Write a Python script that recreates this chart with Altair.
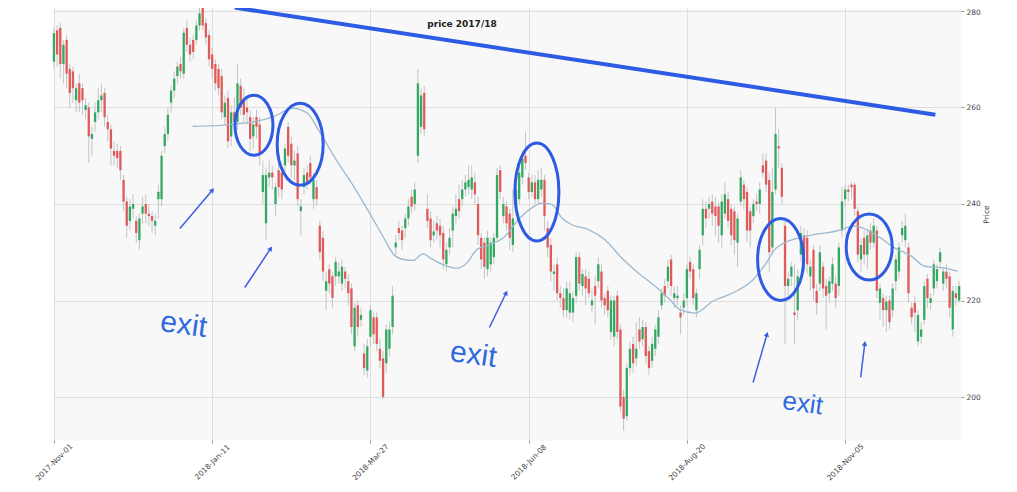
import json
import pandas as pd
import altair as alt

# daily candles, index = trading day since 2017-11-01
opens = [269.5, 276, 276.5, 269, 274, 268, 267.5, 261.5, 265, 264,
         259.5, 260, 253.5, 257, 259, 261.5, 263, 257, 255.5, 251,
         251, 251, 245, 240.5, 236.5, 239, 236.5, 232.5, 238, 240,
         238, 237.5, 235.5, 241, 241, 252, 254.5, 261, 263.5, 266.5,
         269, 267, 276.5, 273, 274, 274, 277, 281, 277.5, 275,
         271, 269, 268, 266.5, 258, 262, 254, 259, 257, 264.5,
         261.5, 260, 258, 254, 258, 256.5, 242.5, 236, 245.5, 246.5,
         240, 247, 246.5, 248, 256, 252.5, 248, 250.5, 238.5, 243.5,
         246.5, 248.5, 241, 243.5, 235.5, 233, 222, 226.5, 225, 225,
         225, 223.5, 226, 224, 222.5, 210.5, 219, 216, 209, 205.5,
         212.5, 216.5, 216.5, 210, 208, 207, 210, 214.5, 231, 235,
         234.5, 235, 237, 241.5, 240, 250, 256, 263, 239, 237,
         233.5, 236, 235.5, 234, 227.5, 231, 234.5, 237.5, 241, 241,
         243, 243.5, 243, 244.5, 240, 233, 232, 226.5, 227.5, 229,
         233, 247, 237.5, 239.5, 238, 231.5, 239, 241, 245.5, 250,
         245.5, 242.5, 244.5, 241, 243, 245, 235, 231.5, 225.5, 227.5,
         221.5, 220.5, 218, 217.5, 217.5, 221, 229, 223, 225, 224.5,
         219, 223, 224, 226, 220.5, 222, 213.5, 212.5, 221, 214,
         200, 196, 206, 211, 208, 214, 212, 214.5, 209.5, 207.5,
         210, 212.5, 219, 223, 224, 228.5, 220.5, 220.5, 217.5, 218.5,
         220.5, 228, 226.5, 218, 226.5, 233.5, 239, 239, 240.5, 239.5,
         239.5, 233.5, 238, 241, 239, 238.5, 232, 240.5, 244, 242.5,
         238.5, 237.5, 240.5, 240, 248, 249, 245, 231, 243, 252,
         247.5, 235.5, 223, 225, 217.5, 218, 229.5, 233.5, 233, 225,
         230.5, 222, 223.5, 227, 223, 221.5, 223.5, 223.5, 223, 234.5,
         241, 243, 244, 244, 238.5, 228.5, 233, 229.5, 234.5, 232,
         234.5, 219.5, 220.5, 218, 220, 218, 224, 226, 233.5, 232.5,
         231, 218.5, 219.5, 211.5, 212.5, 216, 224.5, 219.5, 222.5, 224,
         228, 223.5, 226, 225, 214, 221.5, 220]
closes = [275.4, 271, 269, 273, 267, 263, 264, 264, 261, 261.5,
          260.5, 254, 254.5, 259, 261.5, 262.5, 258, 255.5, 251.5, 250,
          249.5, 247, 240.5, 235.5, 239.5, 240, 234, 237, 239.5, 238,
          237.5, 236.5, 236.5, 242.5, 250, 254.5, 258.5, 263.5, 266, 268.5,
          267.5, 275.5, 273, 271, 271.5, 277, 279.5, 277, 274.5, 270,
          268, 265, 264, 259, 261, 253, 259, 257, 265, 260,
          258.5, 259, 253.5, 256.5, 256, 250.5, 246, 246, 246.5, 245.5,
          243.5, 243.5, 243, 251.5, 250, 248, 249, 241, 239.5, 246,
          244.5, 245.5, 245, 241, 230, 226, 224, 223.5, 220.5, 228,
          226, 227, 224.5, 221.5, 214.5, 218.5, 214.5, 217, 206, 210.5,
          218, 213, 211, 207.5, 200, 214, 214, 221, 232, 234,
          232.5, 237, 239.5, 239.5, 243, 265, 262.5, 255.5, 236.5, 232.5,
          234.3, 234.5, 233.5, 228.5, 230.5, 233, 238, 239, 238.5, 243,
          244.5, 245, 245.5, 242, 233.5, 228.5, 227, 233, 232, 233,
          246, 242.5, 240, 236, 233, 237, 243, 246.5, 249.5, 248.5,
          242.5, 244.5, 241, 245, 245, 237.5, 231, 226, 226, 221.5,
          220.5, 218, 222.5, 221.5, 220.5, 229, 223.5, 225.5, 222.5, 221.5,
          220, 221, 227.5, 220, 219, 218, 220, 220, 213.5, 198,
          195.5, 206, 210, 207, 210, 211.5, 214.5, 208.5, 206, 211,
          214, 216.5, 221.5, 221, 227, 223, 221.5, 221, 216.5, 220,
          226.5, 226, 220.5, 221.5, 230.5, 239, 237, 240, 238, 237.5,
          235.5, 240.5, 242, 236.5, 233.5, 232.5, 237, 245.5, 241, 234.5,
          234.5, 240, 240, 243, 246.5, 244, 230, 242.5, 254.5, 251.5,
          241.5, 223, 224.5, 227, 217, 225, 234, 229.5, 227.5, 227,
          222.5, 219.5, 230, 222.5, 221, 224, 227.5, 220.5, 231, 240.5,
          243, 242.5, 243.5, 239, 229.5, 231.5, 229.5, 233.5, 232, 235.5,
          222, 222.5, 218, 219.8, 215.5, 222.5, 228.5, 231, 235, 235.5,
          221.5, 216.5, 217.5, 217, 214, 223, 220.5, 220.5, 227.5, 226.5,
          230, 226, 224.5, 218.5, 222, 220.5, 223]
highs = [276.5, 277, 277.5, 274, 275, 269, 268.5, 265, 267, 265,
         262, 261, 256, 261, 264, 265, 264, 258.5, 256.5, 253,
         252.5, 252, 246, 241.5, 241, 242, 237.5, 238, 241.5, 242,
         240, 238.5, 238, 244, 251, 256, 260, 264.5, 267.5, 269.5,
         270.5, 276.5, 278, 274.5, 275, 278, 281, 282.5, 278.5, 276,
         272.5, 270, 269, 268, 262.5, 263.5, 260.5, 262, 269, 266,
         264, 262, 259.5, 258, 259.5, 258, 249, 247.5, 249, 248,
         244.5, 248.5, 248, 252.5, 257, 254, 251, 252, 241, 247.5,
         248, 250, 246.5, 245, 236.5, 234.5, 226, 227.5, 226, 229,
         228, 228.5, 227, 225.5, 223.5, 219.5, 220, 218.5, 211, 212,
         219, 217.5, 217.5, 212, 209.5, 215, 215.5, 223, 233.5, 236.5,
         235.5, 238, 241, 243, 244.5, 268, 264, 264.5, 242, 238.5,
         236.5, 237.5, 237, 235.5, 232, 235, 239.5, 242, 244, 245,
         246, 248, 248, 246.5, 241.5, 234, 233, 234.5, 233, 234,
         247.5, 248, 241.5, 240.5, 239, 243, 244.5, 248, 251, 255,
         246.5, 246, 246, 247, 247.5, 246, 236.5, 233, 227.5, 229,
         223, 222.5, 224, 224, 222, 230, 230, 226.5, 226.5, 226,
         222.5, 225, 229, 227.5, 221.5, 223, 221, 221, 222, 215,
         201.5, 207, 211.5, 212.5, 215.5, 216.5, 216, 215.5, 210.5, 212.5,
         215, 218, 222.5, 224.5, 228.5, 229.5, 223, 223, 219, 221.5,
         227.5, 229, 227.5, 222.5, 231.5, 241, 240.5, 241.5, 242, 241.5,
         240.5, 242, 244.5, 242.5, 240, 239.5, 238, 247, 245, 243.5,
         239.5, 241, 242, 244.5, 250.5, 250.5, 246.5, 247.5, 260, 255.5,
         248.5, 236.5, 226, 228, 227.5, 226.5, 235.5, 235, 234.5, 228.5,
         231.5, 223.5, 231.5, 228, 224.5, 225, 229, 225, 232, 243.5,
         244, 244, 244.5, 244.5, 239.5, 233, 234.5, 235, 236, 237,
         235.5, 223.5, 221.5, 221, 221, 223.5, 229.5, 232, 236.5, 238,
         232, 219.5, 221, 218, 215.5, 224, 225.5, 221.5, 228.5, 227.5,
         231, 227, 227.5, 226, 223, 223, 224]
lows = [268, 268.5, 266, 265, 264, 260, 261, 259, 259, 258.5,
        257.5, 248.5, 250, 255, 257.5, 259, 256, 253, 248, 248,
        247.5, 245, 238.5, 233, 234.5, 237, 232, 230.5, 236, 236,
        235.5, 234, 233.5, 237, 239.5, 250.5, 253, 259, 262, 265,
        266, 266, 271.5, 269.5, 270, 273, 276, 276, 273, 268.5,
        266, 263.5, 262.5, 257.5, 256.5, 251.5, 252, 255.5, 255.5, 258.5,
        257, 256.5, 251, 251.5, 253.5, 248, 240, 232.5, 243.5, 243,
        237.5, 241.5, 241, 246, 248.5, 245.5, 245, 239.5, 233.5, 242,
        243, 244, 239, 239.5, 228.5, 224, 218, 221.5, 218.5, 223,
        223.5, 222, 222.5, 219, 213, 209.5, 212.5, 214.5, 204.5, 204,
        210.5, 211, 209.5, 206, 199.5, 205, 208.5, 213, 229.5, 232.5,
        230.5, 233, 235.5, 238, 238.5, 248.5, 254.5, 254, 235, 231,
        232, 232.5, 231, 226.5, 226, 229.5, 231, 236, 237, 239.5,
        241.5, 242, 241, 240, 231.5, 226.5, 224.5, 225, 226, 227.5,
        232.5, 241, 236, 234.5, 230.5, 230, 237.5, 240, 244, 247,
        241, 241.5, 240, 240, 241.5, 234.5, 229, 224, 222, 220,
        218.5, 216.5, 216.5, 216, 215.5, 219.5, 222, 221, 219, 220.5,
        217.5, 215, 222.5, 218.5, 217, 216.5, 212, 210.5, 212, 197,
        193, 195, 204.5, 205, 206.5, 210, 210.5, 207, 204.5, 206,
        208.5, 211, 218, 219.5, 222.5, 221, 218.5, 219, 213, 217,
        219, 224.5, 219, 216.5, 224.5, 231.5, 235, 237, 235.5, 233.5,
        232, 231, 237, 235, 231.5, 229.5, 227, 239.5, 239, 232,
        231, 236, 238.5, 238, 245.5, 242.5, 226, 229.5, 242, 247.5,
        240, 211, 221, 223, 211, 216, 228, 226, 225.5, 222,
        220, 217, 222, 220.5, 214, 219.5, 222, 218.5, 221, 233,
        239.5, 240.5, 241, 237.5, 228, 226, 227.5, 226.5, 230.5, 231,
        220.5, 216, 214.5, 213.5, 214, 216.5, 222, 224.5, 232, 231,
        219.5, 215, 213.5, 210.5, 211, 215, 218.5, 218, 221, 222.5,
        226.5, 222, 222.5, 216.5, 212.5, 219, 219.5]

tick_pos = [0, 50, 100, 150, 200, 250]
tick_labels = ["2017-Nov-01", "2018-Jan-11", "2018-Mar-27",
               "2018-Jun-08", "2018-Aug-20", "2018-Nov-05"]

# moving average line
ma_idx = [43.8, 44.8, 60.6, 69.1, 75.4, 80.1, 83.6, 89.9, 93.7, 100,
          104.2, 107.4, 110.5, 113.7, 114.7, 116.6, 118.9, 123.1, 127.5, 130.5,
          133.7, 137.9, 142, 146.8, 151, 154.2, 157.3, 160.5, 163.6, 168.9,
          174.1, 179.4, 184.6, 189.9, 194.6, 197.8, 202.5, 208.3, 214.6, 220.9,
          225.1, 227.8, 230.9, 235.6, 240.4, 246.7, 253, 260.4, 265.6, 270.9,
          275.1, 280.3, 285.6]
ma_val = [256.2, 256.1, 256.8, 258, 259.8, 258.8, 255.3, 248.4, 244.7, 237.8,
          233, 229.5, 228.5, 228.3, 228.8, 229.7, 228.8, 227.4, 226.7, 227.8,
          230.6, 231.6, 233, 236.8, 239.2, 240.2, 239.9, 237.1, 235.7, 234.7,
          232.6, 228.8, 225.7, 223, 220.2, 218.1, 217.4, 219.9, 221.6, 224.3,
          227.8, 230.6, 232, 233, 233.7, 234.3, 235.4, 233.3, 230.9, 229.2,
          227.1, 226.8, 226.1]

# hand-drawn notes
trend_idx = [57.1, 278.5]
trend_val = [280.7, 258.5]

ring_idx = [63.2, 77.8, 152.6, 229.6, 257.6]
ring_val = [256.3, 252.4, 242.5, 228.5, 231.1]

arrow_i0 = [39.8, 60.3, 137.6, 220.9, 254.9]
arrow_p0 = [234.9, 222.7, 214.4, 203.0, 204.1]
arrow_i1 = [50.1, 68.5, 142.9, 225.3, 256.2]
arrow_p1 = [242.9, 230.8, 221.6, 213.0, 211.1]

exit_idx = [41, 132.5, 236.6]
exit_val = [214.9, 208.7, 198.6]

GREEN = "#33a862"
RED = "#e05a5a"
BLUE = "#2d5be3"

candles = pd.DataFrame({"i": range(len(opens)), "o": opens, "c": closes,
                        "h": highs, "l": lows})
candles["dir"] = ["up" if c >= o else "down" for o, c in zip(opens, closes)]

xs = alt.Scale(domain=[-0.3, 286.6], nice=False, zero=False)
ys = alt.Scale(domain=[191.09, 280.62], nice=False, zero=False)

label_expr = json.dumps(tick_labels) + "[round(datum.value / 50)]"
x_axis = alt.Axis(values=tick_pos, labelExpr=label_expr, title="",
                  labelAngle=-45, labelAlign="center", labelBaseline="middle",
                  labelPadding=19, labelFontSize=7.5, labelFont="DejaVu Sans",
                  labelColor="#444", labelFlush=False, labelOverlap=False,
                  tickSize=3, tickColor="#999", domain=False,
                  grid=True, gridColor="#dedede")
y_axis = alt.Axis(values=[200, 220, 240, 260, 280], orient="right",
                  title="Price", titleAngle=270, titleFontSize=7.5,
                  titleFontWeight="normal", titleFont="DejaVu Sans",
                  titleColor="#444", titleX=25, titleY=206,
                  titleAlign="center", titleBaseline="middle",
                  labelFontSize=7.5, labelFont="DejaVu Sans", labelColor="#444",
                  labelOffset={"condition": {"test": "datum.value == 280", "value": 2},
                               "value": 0},
                  labelPadding=2, tickSize=3, tickColor="#999", domain=False,
                  grid=True, gridColor="#dedede")

X = alt.X("i:Q", scale=xs, axis=x_axis)
Y = alt.Y("p:Q", scale=ys, axis=y_axis)

col = alt.Color("dir:N", scale=alt.Scale(domain=["up", "down"], range=[GREEN, RED]),
                legend=None)

wicks = alt.Chart(candles).mark_rule(color="#c4c4c4", strokeWidth=1).encode(
    x=X, y=alt.Y("l:Q", scale=ys, axis=y_axis), y2="h:Q")
bodies = alt.Chart(candles).mark_rule(strokeWidth=2.3, strokeCap="butt").encode(
    x=X, y=alt.Y("o:Q", scale=ys, axis=y_axis), y2="c:Q", color=col)

ma = alt.Chart(pd.DataFrame({"i": ma_idx, "p": ma_val})).mark_line(
    color="#9db9cf", strokeWidth=1.3, interpolate="monotone").encode(x=X, y=Y)

trend = alt.Chart(pd.DataFrame({"i": [trend_idx[0]], "p": [trend_val[0]],
                                "i2": [trend_idx[1]], "p2": [trend_val[1]]})
                  ).mark_rule(color=BLUE, strokeWidth=4).encode(
    x=X, y=Y, x2="i2:Q", y2="p2:Q")

# ellipse outlines: half width / half height in pixels
ring_w = [19, 23, 22, 23, 23]
ring_h = [30, 41, 49, 41, 33]
paths = []
for w, h in zip(ring_w, ring_h):
    a = round(w / h, 3)
    paths.append(f"M {-a} 0 A {a} 1 0 1 0 {a} 0 A {a} 1 0 1 0 {-a} 0 Z")
rings_df = pd.DataFrame({"i": ring_idx, "p": ring_val, "shp": paths,
                         "sz": [(2 * h) ** 2 for h in ring_h]})
rings = alt.Chart(rings_df).mark_point(filled=False, color=BLUE, strokeWidth=3,
                                       opacity=1).encode(
    x=X, y=Y, shape=alt.Shape("shp:N", scale=None), size=alt.Size("sz:Q", scale=None))

arrows_df = pd.DataFrame({"i": arrow_i0, "p": arrow_p0, "i2": arrow_i1, "p2": arrow_p1,
                          "ang": [40, 33, 26, 16, 7]})
arrow_lines = alt.Chart(arrows_df).mark_rule(color="#3a5fe0", strokeWidth=1.5).encode(
    x=X, y=Y, x2="i2:Q", y2="p2:Q")
arrow_heads = alt.Chart(arrows_df).mark_point(shape="triangle-up", filled=True,
                                              color="#3a5fe0", size=30, opacity=1).encode(
    x=alt.X("i2:Q", scale=xs, axis=x_axis), y=alt.Y("p2:Q", scale=ys, axis=y_axis),
    angle=alt.Angle("ang:Q", scale=None))

exits = alt.Chart(pd.DataFrame({"i": exit_idx, "p": exit_val, "t": ["exit"] * 3,
                                "fs": [30, 30, 26]})).mark_text(
    color="#2f6ae0", font="Liberation Sans", angle=8).encode(
    x=X, y=Y, text="t:N", size=alt.Size("fs:Q", scale=None))

title = alt.Chart(pd.DataFrame({"t": ["price 2017/18"]})).mark_text(
    font="DejaVu Sans", fontWeight="bold", fontSize=9, color="#222").encode(
    x=alt.value(409), y=alt.value(16), text="t:N")

chart = alt.layer(wicks, bodies, ma, trend, rings, arrow_lines, arrow_heads,
                  exits, title).properties(
    width=908, height=432,
    autosize=alt.AutoSizeParams(type="none"),
    padding={"left": 45, "top": 0, "right": 48, "bottom": 44},
    background="white",
).configure_view(fill="#f8f8f8", stroke="transparent")

chart.save("out.html", embed_options={"renderer": "svg", "actions": False})
